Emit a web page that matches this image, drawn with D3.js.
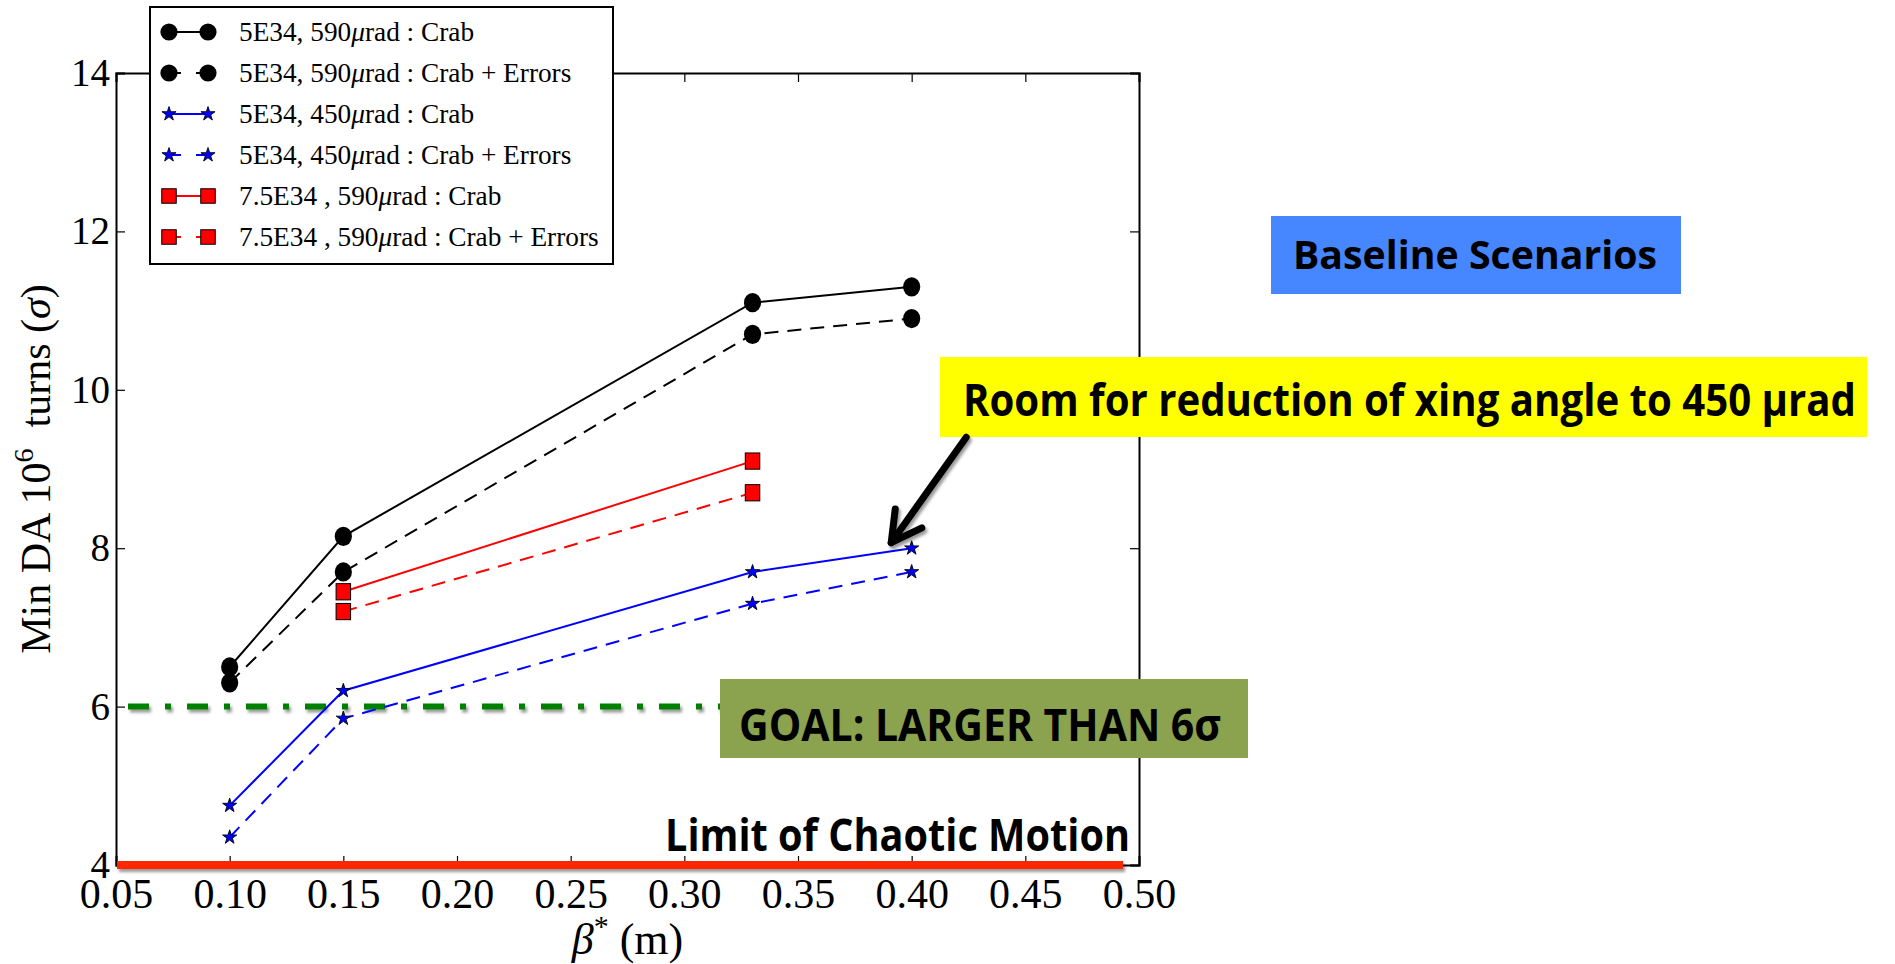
<!DOCTYPE html>
<html>
<head>
<meta charset="utf-8">
<script src="https://cdn.jsdelivr.net/npm/d3@7"></script>
<style>
  html, body { margin: 0; padding: 0; background: #fff; }
  svg { display: block; }
</style>
</head>
<body>
<svg id="chart" width="1895" height="964"></svg>
<script>
// β* scan points (m)
const betaStar = [0.10, 0.15, 0.33, 0.40];
const betaStarHighLumi = [0.15, 0.33];

// Minimum dynamic aperture over 10^6 turns (σ)
const da590Crab = [6.5, 8.15, 11.1, 11.3];
const da590CrabErrors = [6.3, 7.7, 10.7, 10.9];
const da450Crab = [4.75, 6.2, 7.7, 8.0];
const da450CrabErrors = [4.35, 5.85, 7.3, 7.7];
const da75Crab = [7.45, 9.1];
const da75CrabErrors = [7.2, 8.7];

const seriesNames = [
  ["5E34, 590", "rad : Crab"],
  ["5E34, 590", "rad : Crab + Errors"],
  ["5E34, 450", "rad : Crab"],
  ["5E34, 450", "rad : Crab + Errors"],
  ["7.5E34 , 590", "rad : Crab"],
  ["7.5E34 , 590", "rad : Crab + Errors"]
];

const xTicks = [0.05, 0.10, 0.15, 0.20, 0.25, 0.30, 0.35, 0.40, 0.45, 0.50];
const yTicks = [4, 6, 8, 10, 12, 14];

const goalLevel = 6;
const chaosLevel = 4;
const chaosExtent = [0.05, 0.493];
// arrow from the callout down to the 450 µrad curve, in data units
const arrowTail = [0.424, 9.40];
const arrowTip = [0.391, 8.07];

const svg = d3.select("#chart");
const serif = "'Liberation Serif', 'Times New Roman', serif";
const sans = "'Open Sans', Lato, sans-serif";

const defs = svg.append("defs");
defs.append("filter").attr("id", "shadow")
  .attr("filterUnits", "userSpaceOnUse")
  .attr("x", 0).attr("y", 0).attr("width", 1895).attr("height", 964)
  .append("feDropShadow")
  .attr("dx", 2).attr("dy", 3).attr("stdDeviation", 1.6)
  .attr("flood-color", "#000").attr("flood-opacity", 0.4);

const plot = { left: 116, right: 1139, top: 73, bottom: 865 };
const x = d3.scaleLinear().domain([0.05, 0.50]).range([plot.left, plot.right]);
const y = d3.scaleLinear().domain([4, 14]).range([plot.bottom, plot.top]);

// axes with inward ticks on all four sides
const gx = svg.append("g").attr("transform", `translate(0,${plot.bottom})`)
  .call(d3.axisBottom(x).tickValues(xTicks).tickFormat(d3.format(".2f")).tickSize(-9).tickPadding(13));
const gxTop = svg.append("g").attr("transform", `translate(0,${plot.top})`)
  .call(d3.axisTop(x).tickValues(xTicks).tickFormat("").tickSize(-9));
const gy = svg.append("g").attr("transform", `translate(${plot.left},0)`)
  .call(d3.axisLeft(y).tickValues(yTicks).tickFormat(d3.format("d")).tickSize(-9).tickPadding(6));
const gyR = svg.append("g").attr("transform", `translate(${plot.right},0)`)
  .call(d3.axisRight(y).tickValues(yTicks).tickFormat("").tickSize(-9));

[gx, gxTop, gy, gyR].forEach(g => {
  g.select(".domain").attr("stroke", "#000").attr("stroke-width", 2);
  g.selectAll(".tick line").attr("stroke", "#000").attr("stroke-width", 1.2);
  g.selectAll(".tick text").attr("font-family", serif).attr("fill", "#000");
});
gx.selectAll(".tick text").attr("font-size", 42);
gy.selectAll(".tick text").attr("font-size", 39);

// axis titles
const xt = svg.append("text")
  .attr("x", x(0.275)).attr("y", 954)
  .attr("text-anchor", "middle").attr("font-family", serif).attr("font-size", 44);
xt.append("tspan").attr("font-style", "italic").text("β");
xt.append("tspan").attr("font-size", 30).attr("dy", -18).text("*");
xt.append("tspan").attr("dy", 18).text(" (m)");

const yt = svg.append("text")
  .attr("transform", `translate(50,${(plot.top + plot.bottom) / 2}) rotate(-90)`)
  .attr("text-anchor", "middle").attr("font-family", serif).attr("font-size", 42);
yt.append("tspan").text("Min DA 10");
yt.append("tspan").attr("font-size", 28).attr("dy", -17).text("6");
yt.append("tspan").attr("dy", 17).text("\u00a0\u00a0turns (");
yt.append("tspan").attr("font-style", "italic").text("σ");
yt.append("tspan").text(")");

// reference levels
svg.append("line")
  .attr("x1", x(0.05)).attr("x2", x(0.50))
  .attr("y1", y(goalLevel)).attr("y2", y(goalLevel))
  .attr("stroke", "#008000").attr("stroke-width", 6)
  .attr("stroke-dasharray", "21,16,6,16").attr("stroke-dashoffset", 47)
  .attr("filter", "url(#shadow)");

svg.append("line")
  .attr("x1", x(chaosExtent[0]) + 1).attr("x2", x(chaosExtent[1]))
  .attr("y1", y(chaosLevel)).attr("y2", y(chaosLevel))
  .attr("stroke", "#ff2600").attr("stroke-width", 8)
  .attr("filter", "url(#shadow)");

// data series
const series = [
  { xs: betaStar, ys: da590Crab, color: "#000", dash: null, marker: "circle" },
  { xs: betaStar, ys: da590CrabErrors, color: "#000", dash: "14,9", marker: "circle" },
  { xs: betaStar, ys: da450Crab, color: "#0000ff", dash: null, marker: "star" },
  { xs: betaStar, ys: da450CrabErrors, color: "#0000ff", dash: "14,9", marker: "star" },
  { xs: betaStarHighLumi, ys: da75Crab, color: "#ff0000", dash: null, marker: "square" },
  { xs: betaStarHighLumi, ys: da75CrabErrors, color: "#ff0000", dash: "14,9", marker: "square" }
];

const line = d3.line().x(d => x(d[0])).y(d => y(d[1]));

function drawMarker(g, kind, cx, cy, scale) {
  if (kind === "circle") {
    g.append("ellipse").attr("cx", cx).attr("cy", cy)
      .attr("rx", 8.6 * scale.w).attr("ry", 8.6 * scale.h).attr("fill", "#000");
  } else if (kind === "square") {
    const w = 14.5 * scale.w, h = 14.5 * scale.h;
    g.append("rect").attr("x", cx - w / 2).attr("y", cy - h / 2)
      .attr("width", w).attr("height", h)
      .attr("fill", "#ff0000").attr("stroke", "#000").attr("stroke-width", 1);
  } else {
    g.append("path").attr("transform", `translate(${cx},${cy})`)
      .attr("d", d3.symbol().type(d3.symbolStar).size(62 * scale.w * scale.w)())
      .attr("fill", "#0000ff").attr("stroke", "#000").attr("stroke-width", 0.9);
  }
}

const dataG = svg.append("g");
series.forEach(s => {
  const pts = s.xs.map((v, i) => [v, s.ys[i]]);
  dataG.append("path").datum(pts).attr("d", line)
    .attr("fill", "none").attr("stroke", s.color).attr("stroke-width", 2)
    .attr("stroke-dasharray", s.dash);
});
series.forEach(s => {
  s.xs.forEach((v, i) => drawMarker(dataG, s.marker, x(v), y(s.ys[i]), { w: 1, h: 1.12 }));
});

// legend
const lg = svg.append("g");
lg.append("rect").attr("x", 150).attr("y", 7).attr("width", 463).attr("height", 257)
  .attr("fill", "#fff").attr("stroke", "#000").attr("stroke-width", 2);
const rowY = d3.scalePoint().domain(d3.range(series.length)).range([32, 237]);
series.forEach((s, i) => {
  const cy = rowY(i);
  lg.append("line").attr("x1", 169).attr("x2", 208).attr("y1", cy).attr("y2", cy)
    .attr("stroke", s.color).attr("stroke-width", 2)
    .attr("stroke-dasharray", s.dash ? "12,15,12" : null);
  drawMarker(lg, s.marker, 169, cy, { w: 1, h: 1 });
  drawMarker(lg, s.marker, 208, cy, { w: 1, h: 1 });
  const t = lg.append("text").attr("x", 239).attr("y", cy + 9)
    .attr("font-family", serif).attr("font-size", 27.3).attr("fill", "#000");
  t.append("tspan").text(seriesNames[i][0]);
  t.append("tspan").attr("font-style", "italic").text("μ");
  t.append("tspan").text(seriesNames[i][1]);
});

// callouts
svg.append("text").attr("x", 665).attr("y", 851)
  .attr("font-family", sans).attr("font-weight", 700).attr("font-size", 45)
  .attr("textLength", 465).attr("lengthAdjust", "spacingAndGlyphs")
  .text("Limit of Chaotic Motion");

svg.append("rect").attr("x", 720).attr("y", 679).attr("width", 528).attr("height", 79)
  .attr("fill", "#8ba24e");
svg.append("text").attr("x", 739).attr("y", 741)
  .attr("font-family", sans).attr("font-weight", 700).attr("font-size", 45)
  .attr("textLength", 482).attr("lengthAdjust", "spacingAndGlyphs")
  .text("GOAL: LARGER THAN 6σ");

svg.append("rect").attr("x", 1271).attr("y", 216).attr("width", 410).attr("height", 78)
  .attr("fill", "#4686ff");
svg.append("text").attr("x", 1293).attr("y", 269)
  .attr("font-family", sans).attr("font-weight", 700).attr("font-size", 40)
  .attr("textLength", 364).attr("lengthAdjust", "spacingAndGlyphs")
  .text("Baseline Scenarios");

svg.append("rect").attr("x", 940).attr("y", 357).attr("width", 927).attr("height", 80)
  .attr("fill", "#ffff00");
svg.append("text").attr("x", 963).attr("y", 416)
  .attr("font-family", sans).attr("font-weight", 700).attr("font-size", 45)
  .attr("textLength", 893).attr("lengthAdjust", "spacingAndGlyphs")
  .text("Room for reduction of xing angle to 450 μrad");

// arrow
const tail = [x(arrowTail[0]), y(arrowTail[1])];
const tip = [x(arrowTip[0]), y(arrowTip[1])];
const ang = Math.atan2(tip[1] - tail[1], tip[0] - tail[0]);
const headLen = 34, spread = 0.5;
const ag = svg.append("g").attr("filter", "url(#shadow)")
  .attr("stroke", "#000").attr("fill", "none").attr("stroke-width", 7)
  .attr("stroke-linecap", "round").attr("stroke-linejoin", "round");
ag.append("line").attr("x1", tail[0]).attr("y1", tail[1]).attr("x2", tip[0]).attr("y2", tip[1]);
ag.append("polyline").attr("points", [
  [tip[0] - headLen * Math.cos(ang - spread), tip[1] - headLen * Math.sin(ang - spread)],
  tip,
  [tip[0] - headLen * Math.cos(ang + spread), tip[1] - headLen * Math.sin(ang + spread)]
].map(p => p.join(",")).join(" "));
</script>
</body>
</html>
